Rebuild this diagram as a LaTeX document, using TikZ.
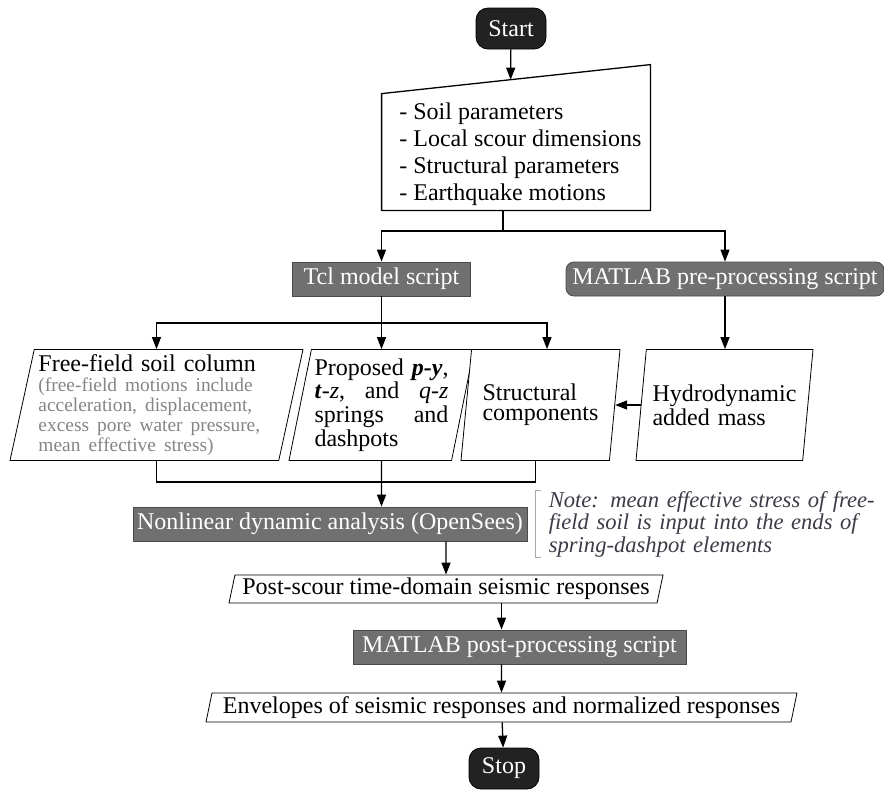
\documentclass[tikz,border=0pt]{standalone}
\usepackage{fontspec}
\setmainfont{Liberation Serif}
\usepackage{xcolor}
\usepackage{tikz}
\usetikzlibrary{positioning,arrows.meta,shapes.geometric,calc}

\definecolor{termfill}{HTML}{222222}
\definecolor{boxgray}{HTML}{707070}
\definecolor{edgegray}{HTML}{4A4A4A}
\definecolor{subgray}{HTML}{858585}
\definecolor{notegray}{HTML}{3C3C48}
\definecolor{brackgray}{HTML}{A8A8A8}

\begin{document}
\begin{tikzpicture}[
    x=0.5pt, y=-0.5pt,
    terminal/.style={
        rectangle,
        rounded corners=6pt,
        draw=black,
        fill=termfill,
        text=white,
        minimum width=35pt,
        minimum height=20.5pt,
        inner sep=1pt,
        font=\fontsize{12}{12}\selectfont
    },
    script/.style={
        rectangle,
        draw=edgegray,
        fill=boxgray,
        text=white,
        minimum height=17pt,
        inner sep=1pt,
        font=\fontsize{12}{12}\selectfont
    },
    data/.style={
        trapezium,
        trapezium left angle=77,
        trapezium right angle=103,
        trapezium stretches body,
        draw=black,
        fill=white,
        align=left,
        inner ysep=1pt,
        font=\fontsize{12}{10}\selectfont
    },
    note/.style={
        text width=166pt,
        align=left,
        inner xsep=6.5pt,
        inner ysep=0pt,
        text=notegray,
        font=\fontsize{11.3}{11.25}\selectfont\itshape
    },
    arrow/.style={
        -{Triangle[length=6pt,width=4.5pt]},
        line width=0.65pt,
        draw=black
    },
    link/.style={
        line width=0.65pt,
        draw=black
    },
    bracket/.style={
        line width=0.65pt,
        draw=brackgray
    }
]
\useasboundingbox (0,0) rectangle (884,789);

% Top: start and input data
\node[terminal] (start) at (511,28.5) {Start};
\node[minimum width=134pt, minimum height=72.5pt, inner sep=0pt] (input) at (516,137.5) {};
\coordinate (inputtl) at ($(input.north west)+(0,29)$);
\draw[link, fill=white] (input.south west) -- (input.south east) -- (input.north east) -- (inputtl) -- cycle;
\node[anchor=west, align=left, inner sep=0pt, font=\fontsize{12}{13.5}\selectfont] (params) at (399,154)
    {- Soil parameters\\- Local scour dimensions\\- Structural parameters\\- Earthquake motions};

% Scripts
\node[script, minimum width=89pt] (tcl) at (381.5,279) {Tcl model script};
\node[script, rounded corners=4pt, minimum width=159pt] (mpre) at (725,279) {MATLAB pre-processing script};

% Middle row: model parts
\node[data, text width=118pt, inner xsep=1pt, minimum width=146.5pt, minimum height=55.5pt] (ff) at (156.5,405)
    {Free-field soil column\\
     {\color{subgray}\fontsize{9.7}{10}\selectfont (free-field motions include\\ acceleration, displacement,\\ excess pore water pressure,\\ mean effective stress)}};
\node[data, text width=67pt, inner xsep=0pt, minimum width=92.5pt, minimum height=55.5pt] (prop) at (381.5,405)
    {Proposed\hfill\textbf{\textit{p-y}},\\
     \textbf{\textit{t}}-\textit{z},\hfill and\hfill\textit{q}-\textit{z}\\
     springs\hfill and\\
     dashpots};
\node[data, text width=58pt, inner xsep=-2.1pt, minimum width=79.5pt, minimum height=55.5pt] (struct) at (540.5,405)
    {Structural\\components};
\node[data, text width=72pt, inner xsep=-4.6pt, minimum width=88.5pt, minimum height=55.5pt] (hydro) at (724.5,405)
    {Hydrodynamic\\added mass};

% Analysis and note
\node[script, minimum width=197pt] (nonlin) at (330,524) {Nonlinear dynamic analysis (OpenSees)};
\node[note, right=4pt of nonlin] (remark)
    {\makebox[166pt][s]{Note: mean effective stress of free-}\\
     \makebox[166pt][s]{field soil is input into the ends of}\\
     spring-dashpot elements};
\draw[bracket] ([xshift=3pt]remark.north west) -- (remark.north west) -- (remark.south west) -- ++(3pt,0);

% Bottom: results
\node[data, minimum width=217pt, minimum height=14pt, inner sep=1pt] (post) at (446,589) {Post-scour time-domain seismic responses};
\node[script, minimum width=166.5pt] (mpost) at (519.5,647) {MATLAB post-processing script};
\node[data, minimum width=295.5pt, minimum height=14.5pt, inner sep=1pt] (env) at (501.5,707.5) {Envelopes of seismic responses and normalized responses};
\node[terminal] (stop) at (504,768.5) {Stop};

% Connections
\coordinate (fork) at (503,231);
\coordinate (branch) at (381.5,323);
\draw[arrow] (start) -- ($(inputtl)!0.48!(input.north east)$);
\draw[link] (input.south -| fork) -- (fork);
\draw[arrow] (fork) -| (tcl);
\draw[arrow] (fork) -| (mpre);

\draw[arrow] (tcl) -- (prop);
\draw[arrow] (branch) -| (ff);
\draw[arrow] (branch) -| ([xshift=3.25pt]struct.north);
\draw[arrow] (mpre.south) -- (mpre.south |- hydro.north);
\draw[arrow] (hydro.left side) -- (struct.right side);

\draw[link] (ff.south) -- ++(0,21) -| (struct.bottom side);
\draw[arrow] (prop) -- (prop |- nonlin.north);

\draw[arrow] (nonlin.south -| post) -- (post);
\draw[arrow] (post.south -| env) -- (mpost.north -| env);
\draw[arrow] (mpost.south -| env) -- (env);
\draw[arrow] (env) -- (stop);

\end{tikzpicture}
\end{document}
